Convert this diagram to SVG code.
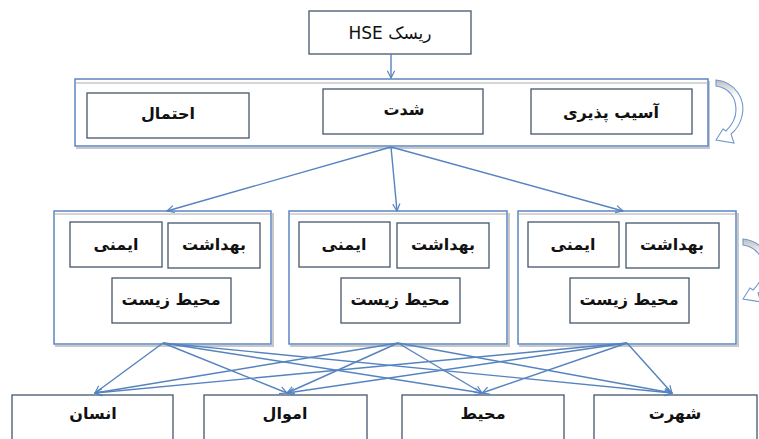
<svg xmlns="http://www.w3.org/2000/svg" width="759" height="439" viewBox="0 0 759 439">
<style>
.box{fill:#fff;stroke:#45566d;stroke-width:1.3}
.band{fill:#fff;stroke:#5b87c5;stroke-width:1.5}
.sh{fill:none;stroke:#c8c8c8;stroke-width:2}
.t{font-family:"DejaVu Sans",sans-serif;font-weight:bold;font-size:16px;text-anchor:middle;fill:#111}
.c{fill:none;stroke:#5583c0;stroke-width:1.4;marker-end:url(#ah)}
.ca{fill:url(#g);stroke:#7099cc;stroke-width:1.1}
</style>
<defs>
<marker id="ah" viewBox="0 0 10 10" refX="9" refY="5" markerWidth="9" markerHeight="9" markerUnits="userSpaceOnUse" orient="auto">
<path d="M1,1 L9,5 L1,9" fill="none" stroke="#5583c0" stroke-width="1.3"/>
</marker>
<linearGradient id="g" x1="0" y1="0" x2="0" y2="1">
<stop offset="0" stop-color="#bdbdbd"/>
<stop offset="0.25" stop-color="#ffffff"/>
<stop offset="1" stop-color="#ffffff"/>
</linearGradient>
<path id="carr" d="M716,80 C736,82 746,100 742,116 C740,125 736,130 731,134 L734,143 L716,140 L723,129 L726,131 C731,126 736,118 736,110 C736,97 729,88 716,86 Z"/>
</defs>

<g id="risk">
<rect class="box" x="309" y="11" width="162" height="43"/>
<text x="390" y="39" direction="rtl" font-family="DejaVu Sans,sans-serif" font-size="17" text-anchor="middle" fill="#111">ریسک HSE</text>
</g>

<g id="band1">
<path class="sh" d="M76,148 H709 V81"/>
<rect class="band" x="75" y="79" width="633" height="67"/>
<line x1="76" y1="83" x2="707" y2="83" stroke="#c8c8c8" stroke-width="1.5"/>
</g>
<g id="ehtemal"><rect class="box" x="87" y="93" width="162" height="45"/><text class="t" x="168" y="119">احتمال</text></g>
<g id="sheddat"><rect class="box" x="323" y="89" width="160" height="45"/><text class="t" x="404" y="115">شدت</text></g>
<g id="asib"><rect class="box" x="531" y="89" width="161" height="45"/><text class="t" x="611" y="118">آسیب پذیری</text></g>

<g id="cyc1"><use href="#carr" class="ca"/></g>
<g id="cyc2"><use href="#carr" class="ca" transform="translate(27,159)"/></g>

<g id="groupL">
<path class="sh" d="M55,346 H273 V213"/>
<rect class="band" x="54" y="211" width="217" height="133"/>
<line x1="55" y1="214" x2="270" y2="214" stroke="#c8c8c8" stroke-width="1.5"/>
<rect class="box" x="70" y="222" width="92" height="45"/><text class="t" x="116" y="250">ایمنی</text>
<rect class="box" x="168" y="223" width="92" height="45"/><text class="t" x="214" y="250">بهداشت</text>
<rect class="box" x="112" y="278" width="119" height="45"/><text class="t" x="171" y="305">محیط زیست</text>
</g>
<g id="groupM">
<path class="sh" d="M290,346 H509 V213"/>
<rect class="band" x="289" y="211" width="218" height="133"/>
<line x1="290" y1="214" x2="506" y2="214" stroke="#c8c8c8" stroke-width="1.5"/>
<rect class="box" x="299" y="222" width="91" height="45"/><text class="t" x="344" y="250">ایمنی</text>
<rect class="box" x="397" y="223" width="92" height="45"/><text class="t" x="443" y="250">بهداشت</text>
<rect class="box" x="341" y="278" width="119" height="45"/><text class="t" x="400" y="305">محیط زیست</text>
</g>
<g id="groupR">
<path class="sh" d="M519,346 H738 V213"/>
<rect class="band" x="518" y="211" width="218" height="133"/>
<line x1="519" y1="214" x2="735" y2="214" stroke="#c8c8c8" stroke-width="1.5"/>
<rect class="box" x="528" y="222" width="91" height="45"/><text class="t" x="573" y="250">ایمنی</text>
<rect class="box" x="626" y="223" width="93" height="45"/><text class="t" x="672" y="250">بهداشت</text>
<rect class="box" x="570" y="278" width="119" height="45"/><text class="t" x="629" y="305">محیط زیست</text>
</g>

<g id="ensan"><rect class="box" x="12" y="395" width="161" height="60"/><text class="t" x="93" y="419">انسان</text></g>
<g id="amval"><rect class="box" x="204" y="395" width="163" height="60"/><text class="t" x="285" y="419">اموال</text></g>
<g id="mohit"><rect class="box" x="402" y="395" width="162" height="60"/><text class="t" x="483" y="419">محیط</text></g>
<g id="shohrat"><rect class="box" x="594" y="395" width="163" height="60"/><text class="t" x="675" y="419">شهرت</text></g>

<g id="connectors">
<line class="c" x1="391" y1="54" x2="391" y2="78"/>
<line class="c" x1="391" y1="147" x2="167" y2="211"/>
<line class="c" x1="391" y1="147" x2="397" y2="211"/>
<line class="c" x1="391" y1="147" x2="623" y2="211"/>
<line class="c" x1="163" y1="343" x2="95" y2="393"/>
<line class="c" x1="163" y1="343" x2="287" y2="393"/>
<line class="c" x1="163" y1="343" x2="482" y2="393"/>
<line class="c" x1="163" y1="343" x2="672" y2="393"/>
<line class="c" x1="398" y1="343" x2="95" y2="393"/>
<line class="c" x1="398" y1="343" x2="287" y2="393"/>
<line class="c" x1="398" y1="343" x2="482" y2="393"/>
<line class="c" x1="398" y1="343" x2="672" y2="393"/>
<line class="c" x1="627" y1="343" x2="95" y2="393"/>
<line class="c" x1="627" y1="343" x2="287" y2="393"/>
<line class="c" x1="627" y1="343" x2="482" y2="393"/>
<line class="c" x1="627" y1="343" x2="672" y2="393"/>
</g>
</svg>
